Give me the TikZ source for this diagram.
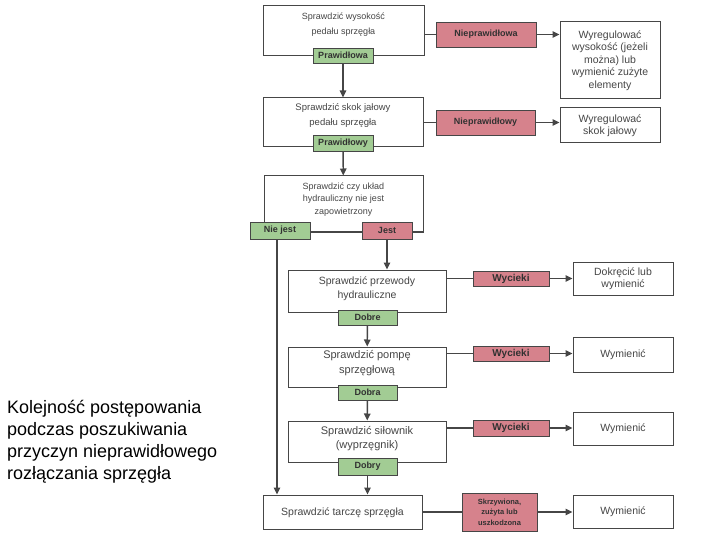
\documentclass[tikz,border=0pt]{standalone}
\usepackage{fontspec}
\setmainfont{Liberation Sans}
\usetikzlibrary{arrows.meta}

\definecolor{okgreen}{RGB}{162,204,148}
\definecolor{badred}{RGB}{214,130,140}
\definecolor{edgegray}{RGB}{70,70,70}
\definecolor{txtgray}{RGB}{70,70,70}

\tikzset{
  chkframe/.style={draw=edgegray, line width=1pt, fill=white, inner sep=0pt},
  chktext/.style={align=center, text=txtgray, inner sep=0pt, font=\fontsize{10.5}{14}\selectfont},
  okbox/.style={draw=edgegray, line width=0.9pt, fill=okgreen, inner sep=0pt, text=txtgray!70!black,
    font=\bfseries\fontsize{9}{10}\selectfont},
  badbox/.style={draw=edgegray, line width=0.9pt, fill=badred, inner sep=0pt, align=center,
    text=txtgray!70!black, font=\bfseries\fontsize{9}{10}\selectfont},
  fixbox/.style={draw=edgegray, line width=1pt, fill=white, inner sep=0pt, align=center,
    text=txtgray, font=\fontsize{10.5}{12.5}\selectfont, minimum width=100pt},
  link/.style={draw=edgegray, line width=1.4pt},
  arr/.style={link, -{Triangle[length=7pt,width=6.5pt]}}
}

\begin{document}
\begin{tikzpicture}[x=1pt,y=-1pt]
  \useasboundingbox (0,0) rectangle (720,540);

  % ---- Main column: checks ----
  \node[chkframe, minimum width=161pt, minimum height=50pt] (box1) at (343.5,31) {};
  \node[chktext, font=\fontsize{9}{14.5}\selectfont] (box1t) at (343.5,24.5) {Sprawdzić wysokość\\pedału sprzęgła};
  \node[okbox, minimum width=60pt, minimum height=15pt] (ok1) at (343,55.5) {Prawidłowa};

  \node[chkframe, minimum width=160pt, minimum height=49pt] (box2) at (343,122.5) {};
  \node[chktext, font=\fontsize{9.5}{15}\selectfont] (box2t) at (343,115.5) {Sprawdzić skok jałowy\\pedału sprzęgła};
  \node[okbox, minimum width=60pt, minimum height=16pt] (ok2) at (343,143) {Prawidłowy};

  \node[chkframe, minimum width=159pt, minimum height=56pt] (box3) at (343.5,204) {};
  \node[chktext, font=\fontsize{9}{12.5}\selectfont] (box3t) at (343.5,199.5) {Sprawdzić czy układ\\hydrauliczny nie jest\\zapowietrzony};
  \node[okbox, minimum width=60pt, minimum height=17pt] (no3) at (280,230.5) {Nie jest};
  \node[badbox, minimum width=50pt, minimum height=17pt] (yes3) at (387,230.5) {Jest};

  \node[chkframe, minimum width=158pt, minimum height=42pt] (box4) at (367,291) {};
  \node[chktext] (box4t) at (367,289) {Sprawdzić przewody\\hydrauliczne};
  \node[okbox, minimum width=59pt, minimum height=15pt] (ok4) at (367.5,317.5) {Dobre};

  \node[chkframe, minimum width=158pt, minimum height=40pt] (box5) at (367,367) {};
  \node[chktext, font=\fontsize{11}{15}\selectfont] (box5t) at (367,363.5) {Sprawdzić pompę\\sprzęgłową};
  \node[okbox, minimum width=59pt, minimum height=15pt] (ok5) at (367.5,392.5) {Dobra};

  \node[chkframe, minimum width=158pt, minimum height=41pt] (box6) at (367,441.5) {};
  \node[chktext, font=\fontsize{11}{14}\selectfont] (box6t) at (367,439) {Sprawdzić siłownik\\(wyprzęgnik)};
  \node[okbox, minimum width=59pt, minimum height=17pt] (ok6) at (367.5,466.5) {Dobry};

  \node[chkframe, minimum width=159pt, minimum height=34pt] (box7) at (342.5,512) {};
  \node[chktext] (box7t) at (342.5,512.5) {Sprawdzić tarczę sprzęgła};

  % ---- Right side: faults and remedies ----
  \node[badbox, minimum width=100pt, minimum height=25pt] (bad1) at (486,34.5) {Nieprawidłowa};
  \node[fixbox, minimum height=77pt] (fix1) at (610,60.5) {Wyregulować\\wysokość (jeżeli\\można) lub\\wymienić zużyte\\elementy};

  \node[badbox, minimum width=99pt, minimum height=25pt] (bad2) at (485.5,122.5) {Nieprawidłowy};
  \node[fixbox, minimum height=35pt] (fix2) at (610,125.5) {Wyregulować\\skok jałowy};

  \node[badbox, minimum width=76pt, minimum height=15pt, font=\bfseries\fontsize{10}{11}\selectfont] (bad4) at (511,278.5) {Wycieki};
  \node[fixbox, minimum height=33pt] (fix4) at (623,278.5) {Dokręcić lub\\wymienić};

  \node[badbox, minimum width=76pt, minimum height=15pt, font=\bfseries\fontsize{10}{11}\selectfont] (bad5) at (511,353.5) {Wycieki};
  \node[fixbox, minimum height=35pt] (fix5) at (623,354.5) {Wymienić};

  \node[badbox, minimum width=76pt, minimum height=16pt, font=\bfseries\fontsize{10}{11}\selectfont] (bad6) at (511,428) {Wycieki};
  \node[fixbox, minimum height=33pt] (fix6) at (623,428.5) {Wymienić};

  \node[badbox, minimum width=75pt, minimum height=38pt, font=\bfseries\fontsize{7.5}{10.5}\selectfont] (bad7) at (499.5,512) {Skrzywiona,\\zużyta lub\\uszkodzona};
  \node[fixbox, minimum height=33pt] (fix7) at (623,511.5) {Wymienić};

  % Connectors down the column
  \draw[arr] (ok1) -- (box2);
  \draw[arr] (ok2) -- (box3);
  \draw[arr] (yes3) -- (yes3 |- box4.north);
  \draw[arr] (ok4) -- (box5);
  \draw[arr] (ok5) -- (box6);
  \draw[arr] (ok6) -- (ok6 |- box7.north);
  \draw[arr] ([xshift=-3pt]no3.south) -- ([xshift=-3pt]no3.south |- box7.north);

  % Connectors to the faults
  \draw[link] (bad1.west -| box1.east) -- (bad1.west);
  \draw[link] (bad2.west -| box2.east) -- (bad2.west);
  \draw[link] (bad4.west -| box4.east) -- (bad4.west);
  \draw[link] (bad5.west -| box5.east) -- (bad5.west);
  \draw[link] (bad6.west -| box6.east) -- (bad6.west);
  \draw[link] (bad7.west -| box7.east) -- (bad7.west);
  \draw[arr] (bad1) -- (bad1 -| fix1.west);
  \draw[arr] (bad2) -- (bad2 -| fix2.west);
  \draw[arr] (bad4) -- (fix4);
  \draw[arr] (bad5) -- (bad5 -| fix5.west);
  \draw[arr] (bad6) -- (bad6 -| fix6.west);
  \draw[arr] (bad7) -- (bad7 -| fix7.west);

  % Caption
  \node[align=left, anchor=north west, inner sep=0pt, font=\fontsize{18}{22}\selectfont] (caption) at (7,400)
    {Kolejność postępowania\\podczas poszukiwania\\przyczyn nieprawidłowego\\rozłączania sprzęgła};
\end{tikzpicture}
\end{document}
